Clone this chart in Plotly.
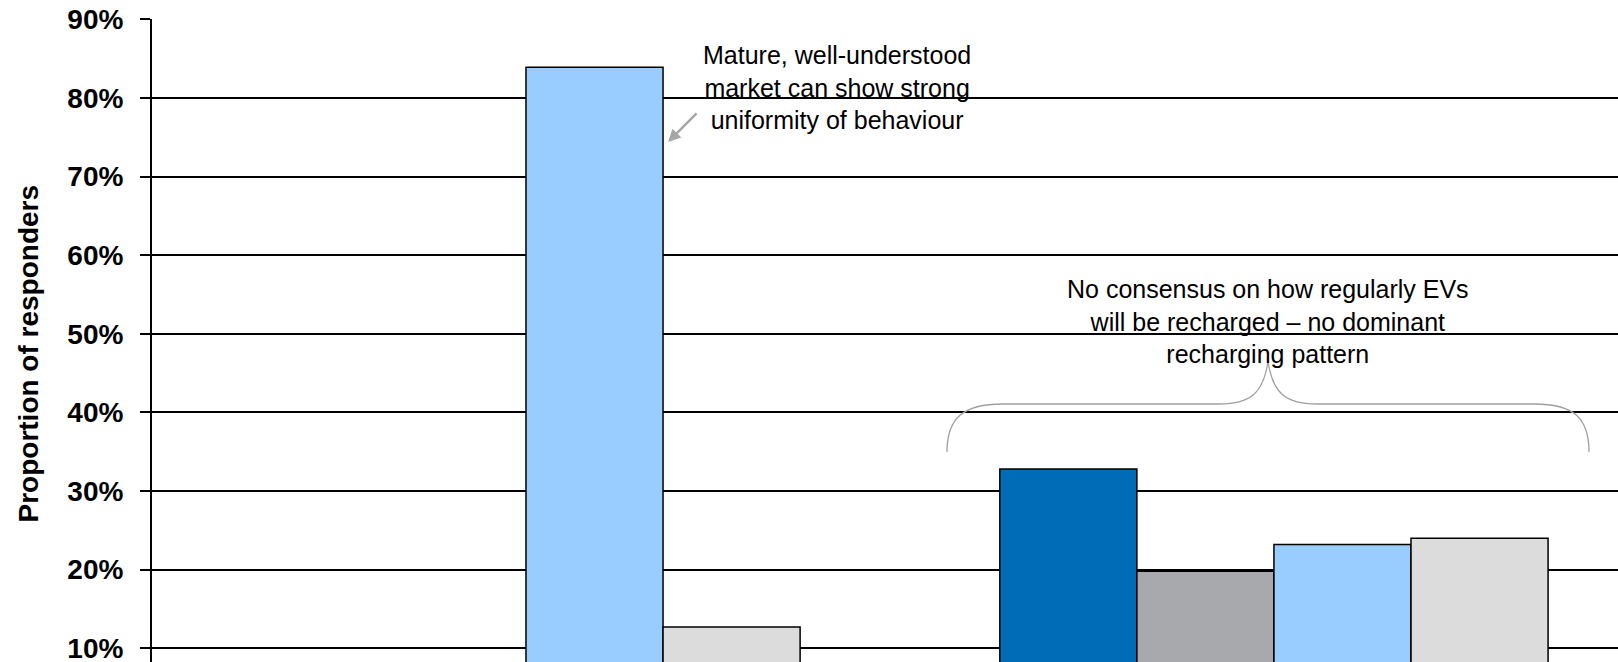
import plotly.graph_objects as go

# ---- data ----
categories = ["Conventional vehicles", "Electric vehicles"]
series_names = ["Pattern A", "Pattern B", "Pattern C", "Pattern D"]
series_colors = ["#006BB6", "#A7A9AC", "#99CCFF", "#DCDCDC"]
values_a = [0.02, 0.328]
values_b = [0.013, 0.198]
values_c = [0.839, 0.232]
values_d = [0.127, 0.240]
all_values = [values_a, values_b, values_c, values_d]
tick_vals = [0.1, 0.2, 0.3, 0.4, 0.5, 0.6, 0.7, 0.8, 0.9]
tick_text = ["10%", "20%", "30%", "40%", "50%", "60%", "70%", "80%", "90%"]

W, H = 1618, 662
ML, MT = 152, 19
PW, PH = W - ML, H - MT

FONT = "Arial, Liberation Sans, sans-serif"

fig = go.Figure()
for name, vals, col in zip(series_names, all_values, series_colors):
    fig.add_trace(go.Bar(
        x=categories, y=vals, name=name,
        marker=dict(color=col, line=dict(color="black", width=1.5)),
    ))


def px2paper(px, py):
    return (px - ML) / PW, (H - py) / PH


# curly brace (decoration) in pixel -> paper coordinates
brace_pts = [
    ("M", [(947, 452)]),
    ("C", [(947, 418), (963, 404), (1003, 404)]),
    ("L", [(1219, 404)]),
    ("C", [(1252, 404), (1263, 392), (1268, 362)]),
    ("C", [(1273, 392), (1284, 404), (1317, 404)]),
    ("L", [(1534, 404)]),
    ("C", [(1574, 404), (1589, 418), (1589, 452)]),
]
path = ""
for cmd, pts in brace_pts:
    path += cmd + " " + " ".join("%.5f,%.5f" % px2paper(*p) for p in pts) + " "

fig.add_shape(type="path", path=path.strip(), xref="paper", yref="paper",
              line=dict(color="#A0A0A0", width=1.3))

fig.add_annotation(
    x=0.4156, y=0.813, xref="x", yref="y",
    text="Mature, well-understood<br>market can show strong<br>uniformity of behaviour",
    showarrow=False, font=dict(family=FONT, size=25, color="black"), align="center",
    xanchor="center", yanchor="middle",
)
fig.add_annotation(
    x=0.19, y=0.744, xref="x", yref="y", text="",
    showarrow=True, ax=30, ay=-30, arrowhead=2, arrowsize=1, arrowwidth=2.5,
    arrowcolor="#A6A6A6",
)
fig.add_annotation(
    x=0.992, y=0.5155, xref="x", yref="y",
    text="No consensus on how regularly EVs<br>will be recharged \u2013 no dominant<br>recharging pattern",
    showarrow=False, font=dict(family=FONT, size=25, color="black"), align="center",
    xanchor="center", yanchor="middle",
)
fig.add_annotation(
    x=(28.5 - ML) / PW, y=(H - 354) / PH, xref="paper", yref="paper",
    xanchor="center", yanchor="middle",
    text="Proportion of responders", textangle=-90, showarrow=False,
    font=dict(family=FONT, size=28, color="black", weight="bold"),
)

fig.update_layout(
    width=W, height=H,
    margin=dict(l=ML, r=0, t=MT, b=0, pad=0, autoexpand=False),
    paper_bgcolor="white", plot_bgcolor="white",
    barmode="group", bargap=0.267, bargroupgap=0,
    showlegend=False,
    font=dict(family=FONT, color="black"),
)
fig.update_xaxes(
    range=[-0.5, 1.46], showticklabels=False, ticks="", showgrid=False,
    showline=False, zeroline=False, automargin=False,
)
fig.update_yaxes(
    range=[0.0826, 0.9003], tickvals=tick_vals, ticktext=tick_text,
    tickfont=dict(family=FONT, size=28, color="black", weight="bold"),
    ticks="outside", ticklen=10, tickwidth=2, tickcolor="black",
    ticklabelstandoff=11, ticklabeloverflow="allow", automargin=False,
    showgrid=True, gridcolor="black", gridwidth=2,
    showline=True, linecolor="black", linewidth=2, zeroline=False,
)

fig.write_html(
    "out.html",
    config={"displayModeBar": False},
    post_script="document.body.style.margin='0';document.body.style.overflow='hidden';",
)
